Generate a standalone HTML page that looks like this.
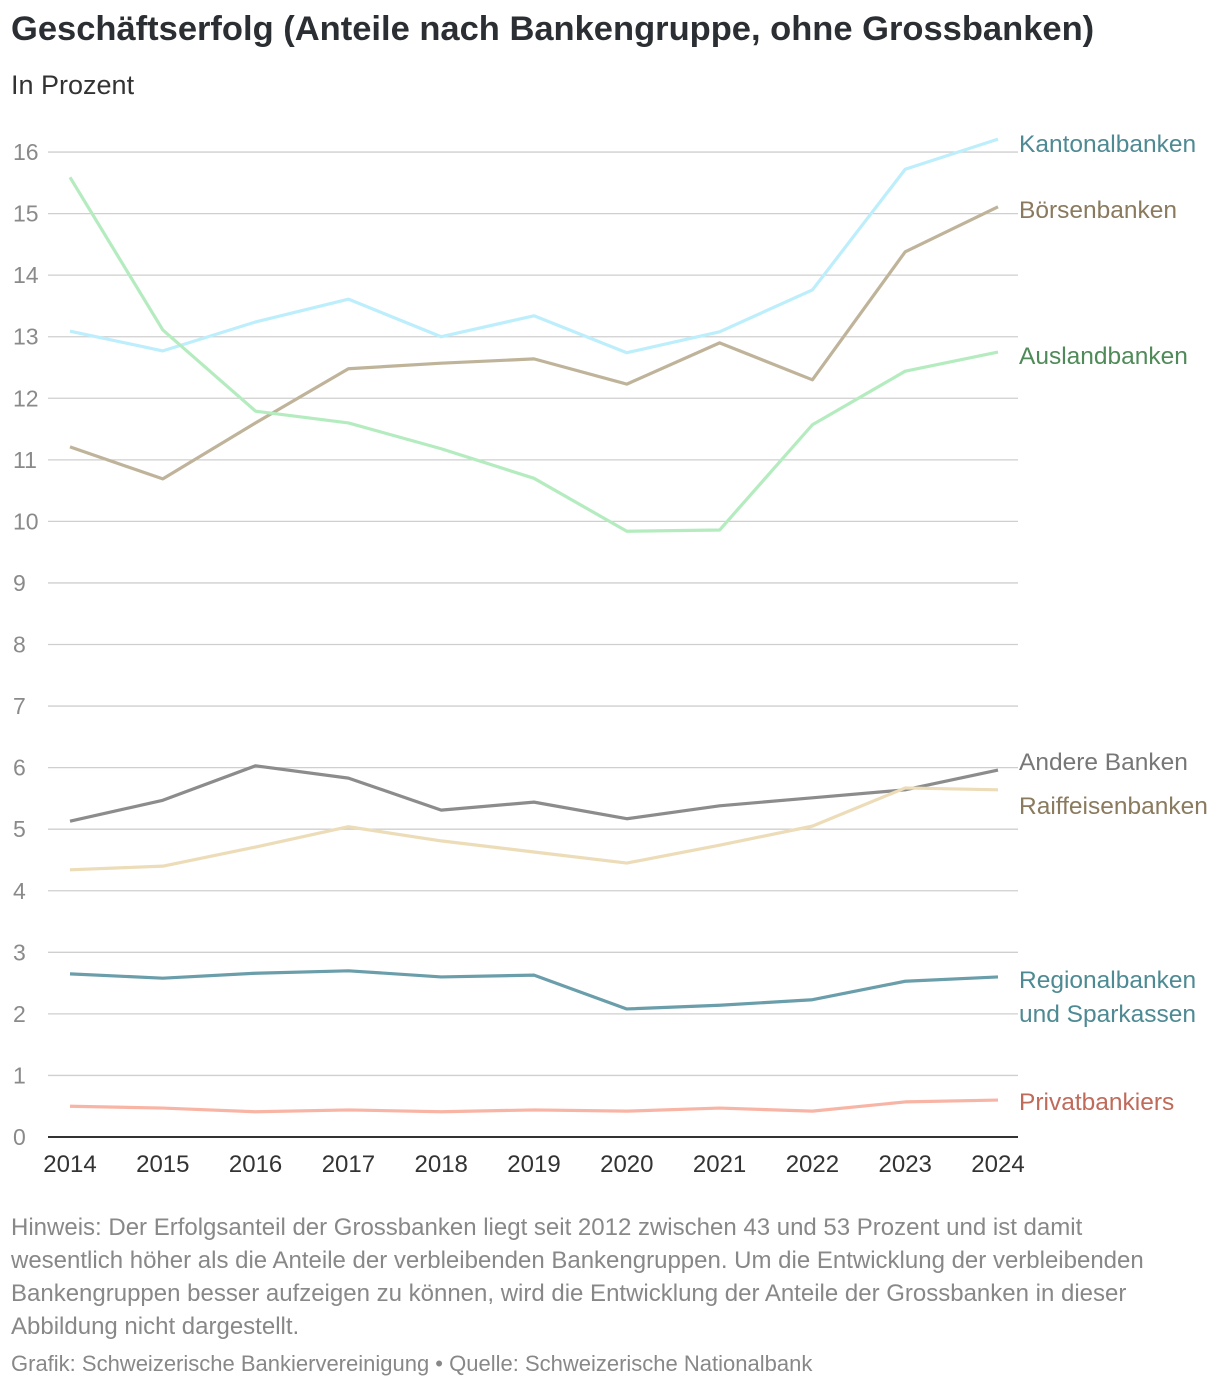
<!DOCTYPE html>
<html><head><meta charset="utf-8">
<style>
body{margin:0;background:#fff;width:1220px;height:1392px;overflow:hidden;font-family:"Liberation Sans",sans-serif;}
#title{position:absolute;left:11px;top:10px;font-size:34.5px;font-weight:bold;color:#2b2f33;}
#sub{position:absolute;left:11px;top:70px;font-size:27px;color:#333;}
#note{position:absolute;left:11px;top:1211px;white-space:nowrap;font-size:24px;line-height:33px;color:#888;}
#src{position:absolute;left:11px;top:1351px;font-size:22px;color:#888;}
svg{position:absolute;left:0;top:0;}
</style></head><body>
<div id="title">Geschäftserfolg (Anteile nach Bankengruppe, ohne Grossbanken)</div>
<div id="sub">In Prozent</div>
<svg id="chart" width="1220" height="1392"></svg>
<div id="note">Hinweis: Der Erfolgsanteil der Grossbanken liegt seit 2012 zwischen 43 und 53 Prozent und ist damit<br>wesentlich höher als die Anteile der verbleibenden Bankengruppen. Um die Entwicklung der verbleibenden<br>Bankengruppen besser aufzeigen zu können, wird die Entwicklung der Anteile der Grossbanken in dieser<br>Abbildung nicht dargestellt.</div>
<div id="src">Grafik: Schweizerische Bankiervereinigung • Quelle: Schweizerische Nationalbank</div>
<script>
const years=[2014,2015,2016,2017,2018,2019,2020,2021,2022,2023,2024];
const yTicks=[0,1,2,3,4,5,6,7,8,9,10,11,12,13,14,15,16];
const kantonal=[13.09,12.77,13.24,13.61,13.0,13.34,12.74,13.08,13.76,15.72,16.21];
const boersen=[11.21,10.69,11.6,12.48,12.57,12.64,12.23,12.9,12.3,14.38,15.11];
const ausland=[15.59,13.11,11.79,11.6,11.18,10.7,9.84,9.86,11.57,12.44,12.75];
const andere=[5.13,5.47,6.03,5.83,5.31,5.44,5.17,5.38,5.51,5.64,5.96];
const raiffeisen=[4.34,4.4,4.71,5.04,4.81,4.63,4.45,4.74,5.05,5.67,5.64];
const regional=[2.65,2.58,2.66,2.7,2.6,2.63,2.08,2.14,2.23,2.53,2.6];
const privat=[0.5,0.47,0.41,0.44,0.41,0.44,0.42,0.47,0.42,0.57,0.6];
const seriesNames=["Kantonalbanken","Börsenbanken","Auslandbanken","Andere Banken","Raiffeisenbanken","Regionalbanken|und Sparkassen","Privatbankiers"];

const NS="http://www.w3.org/2000/svg";
const svg=document.getElementById('chart');
const X=y=>70+(y-2014)*92.8;
const Y=v=>1137-v*61.56;
function el(t,a,p){const e=document.createElementNS(NS,t);for(const k in a)e.setAttribute(k,a[k]);(p||svg).appendChild(e);return e;}
yTicks.forEach(t=>{
  if(t>0){const l=el('line',{x1:48,x2:1018,y1:Y(t),y2:Y(t),stroke:'#cfcfcf','stroke-width':1.3});
  
  }
  const tx=el('text',{x:13,y:Y(t)+8,'font-size':23,fill:'#8a8a8a'});tx.textContent=t;
  
  
});
const ax=el('line',{x1:48,x2:1018,y1:1137,y2:1137,stroke:'#333','stroke-width':2});


years.forEach(y=>{const t=el('text',{x:X(y),y:1172,'font-size':24,fill:'#333','text-anchor':'middle'});t.textContent=y;
  
  });
const series=[
 [kantonal,'#bdeefc','#4e8a93',144,'kantonalbanken'],
 [boersen,'#bfb39a','#8a7a5e',210,'boersenbanken'],
 [ausland,'#b4ecbf','#4f8a58',356,'auslandbanken'],
 [andere,'#8c8c8c','#777777',762,'andere-banken'],
 [raiffeisen,'#ecdcb8','#8a7a5e',806,'raiffeisenbanken'],
 [regional,'#6a9eaa','#4e8a93',980,'regionalbanken'],
 [privat,'#f8b5a5','#c06a5a',1102,'privatbankiers']];
series.forEach((s,i)=>{
  const pts=s[0].map((v,j)=>X(years[j])+','+Y(v)).join(' ');
  const p=el('polyline',{points:pts,fill:'none',stroke:s[1],'stroke-width':3.2,'stroke-linejoin':'round'});
  
  
  const lines=seriesNames[i].split('|');
  lines.forEach((ln,k)=>{const t=el('text',{x:1019,y:s[3]+8+k*34,'font-size':24.5,fill:s[2]});t.textContent=ln;
    
    });
});
</script>
</body></html>
